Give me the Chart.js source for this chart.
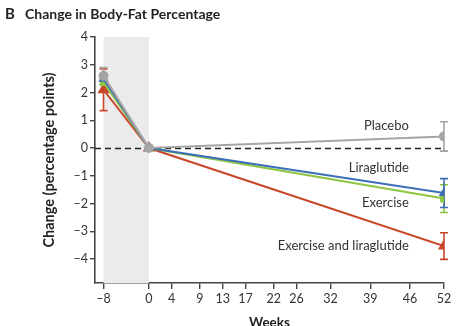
<!DOCTYPE html>
<html>
<head>
<meta charset="utf-8">
<script src="https://cdn.jsdelivr.net/npm/chart.js@4.4.1/dist/chart.umd.min.js"></script>
<style>
  html, body { margin: 0; padding: 0; background: #fff; }
  #wrap { width: 474px; height: 326px; position: relative; overflow: hidden; }
</style>
</head>
<body>
<div id="wrap"><canvas id="chart" width="474" height="326"></canvas></div>
<script>
// ── DATA ────────────────────────────────────────────────────────────────────
const WEEKS = [-8, 0, 52];
const X_TICKS = [-8, 0, 4, 9, 13, 17, 22, 26, 32, 39, 46, 52];
const Y_TICKS = [-4, -3, -2, -1, 0, 1, 2, 3, 4];

const SERIES_NAMES = ['Placebo', 'Liraglutide', 'Exercise', 'Exercise and liraglutide'];
const PLACEBO     = [2.6, 0, 0.42];
const LIRAGLUTIDE = [2.5, 0, -1.62];
const EXERCISE    = [2.37, 0, -1.82];
const COMBINED    = [2.1, 0, -3.53];

// half-width of the error bars (null = none shown)
const PLACEBO_ERR     = [0.3, null, 0.53];
const LIRAGLUTIDE_ERR = [null, null, 0.52];
const EXERCISE_ERR    = [null, null, 0.5];
const COMBINED_ERR    = [0.75, null, 0.48];

// ── STYLE ───────────────────────────────────────────────────────────────────
const COLORS = ['#a5a5a5', '#3d6fb6', '#8dc540', '#c8472b'];
const SHAPES = ['circle', 'triangle', 'rect', 'triangle'];
const RADII  = [4, 4, 4, 5];
const FONT = 'Lato, "Open Sans", sans-serif';
const INK = '#333';

// where the series names sit (data units)
const NAME_X = 45.8;
const NAME_Y = [0.79, -0.72, -1.98, -3.53];

const values = [PLACEBO, LIRAGLUTIDE, EXERCISE, COMBINED];
const errors = [PLACEBO_ERR, LIRAGLUTIDE_ERR, EXERCISE_ERR, COMBINED_ERR];

const datasets = SERIES_NAMES.map((name, i) => ({
  label: name,
  data: WEEKS.map((w, j) => ({ x: w, y: values[i][j] })),
  borderColor: COLORS[i],
  backgroundColor: COLORS[i],
  pointBackgroundColor: COLORS[i],
  pointBorderColor: COLORS[i],
  pointStyle: SHAPES[i],
  pointRadius: RADII[i],
  borderWidth: 2,
  tension: 0,
  order: i   // placebo drawn on top
}));

// ── PLUGINS ─────────────────────────────────────────────────────────────────
const backdrop = {
  id: 'backdrop',
  beforeDatasetsDraw(chart) {
    const { ctx, chartArea: a, scales: { x, y } } = chart;
    ctx.save();
    // run-in period band
    ctx.fillStyle = '#ebebeb';
    const x0 = x.getPixelForValue(-8), x1 = x.getPixelForValue(0);
    ctx.fillRect(x0, y.getPixelForValue(4), x1 - x0, a.bottom - y.getPixelForValue(4));
    // zero line
    ctx.strokeStyle = '#222';
    ctx.lineWidth = 1.4;
    ctx.setLineDash([6, 4]);
    const y0 = Math.round(y.getPixelForValue(0)) + 0.5;
    ctx.beginPath();
    ctx.moveTo(a.left, y0);
    ctx.lineTo(a.right, y0);
    ctx.stroke();
    ctx.setLineDash([]);
    // error bars
    ctx.lineWidth = 1.6;
    for (let i = errors.length - 1; i >= 0; i--) {
      ctx.strokeStyle = COLORS[i];
      errors[i].forEach((e, j) => {
        if (e == null) return;
        const px = x.getPixelForValue(WEEKS[j]);
        const hi = y.getPixelForValue(values[i][j] + e);
        const lo = y.getPixelForValue(values[i][j] - e);
        ctx.beginPath();
        ctx.moveTo(px, hi); ctx.lineTo(px, lo);
        ctx.moveTo(px - 4, hi); ctx.lineTo(px + 4, hi);
        ctx.moveTo(px - 4, lo); ctx.lineTo(px + 4, lo);
        ctx.stroke();
      });
    }
    ctx.restore();
  },
  afterDraw(chart) {
    const { ctx, chartArea: a, scales: { x, y } } = chart;
    ctx.save();
    ctx.fillStyle = '#222';
    ctx.textBaseline = 'alphabetic';
    ctx.textAlign = 'left';
    ctx.font = 'bold 15px ' + FONT;
    ctx.fillText('B', 5, 19);
    ctx.font = 'bold 14px ' + FONT;
    ctx.fillText('Change in Body-Fat Percentage', 25, 19);
    // x title
    ctx.textAlign = 'center';
    ctx.textBaseline = 'top';
    ctx.font = 'bold 13.5px ' + FONT;
    ctx.fillText('Weeks', (a.left + a.right) / 2, 316);
    // series names
    ctx.fillStyle = INK;
    ctx.font = '13px ' + FONT;
    ctx.textAlign = 'right';
    ctx.textBaseline = 'middle';
    SERIES_NAMES.forEach((n, i) => {
      ctx.fillText(n, x.getPixelForValue(NAME_X), y.getPixelForValue(NAME_Y[i]));
    });
    ctx.restore();
  }
};

const dash = v => (v < 0 ? '\u2013' + Math.abs(v) : String(v));

new Chart(document.getElementById('chart'), {
  type: 'line',
  data: { datasets },
  options: {
    responsive: false,
    devicePixelRatio: 1,
    animation: false,
    layout: { padding: { left: 0, right: 30, top: 37, bottom: 0 } },
    plugins: { legend: { display: false }, tooltip: { enabled: false } },
    scales: {
      x: {
        type: 'linear',
        min: -9.5, max: 52,
        afterBuildTicks: s => { s.ticks = X_TICKS.map(v => ({ value: v })); },
        afterFit: s => { s.height = 43; },
        grid: { drawOnChartArea: false, drawTicks: true, tickLength: 6, color: '#444', lineWidth: 1.4 },
        border: { display: true, color: '#444', width: 1.6 },
        ticks: { color: INK, font: { family: FONT, size: 12.5 }, padding: 2, maxRotation: 0, autoSkip: false, callback: dash }
      },
      y: {
        min: -4.86, max: 4,
        afterBuildTicks: s => { s.ticks = Y_TICKS.map(v => ({ value: v })); },
        afterFit: s => { s.width = 95; },
        grid: { drawOnChartArea: false, drawTicks: true, tickLength: 5, color: '#444', lineWidth: 1.4 },
        border: { display: true, color: '#444', width: 1.6 },
        ticks: { color: INK, font: { family: FONT, size: 12.5 }, padding: 2, callback: dash },
        title: {
          display: true,
          text: 'Change (percentage points)',
          color: '#222',
          font: { family: FONT, size: 14.5, weight: 'bold' },
          padding: { top: 41, bottom: 0 }
        }
      }
    }
  },
  plugins: [backdrop]
});
</script>
</body>
</html>
